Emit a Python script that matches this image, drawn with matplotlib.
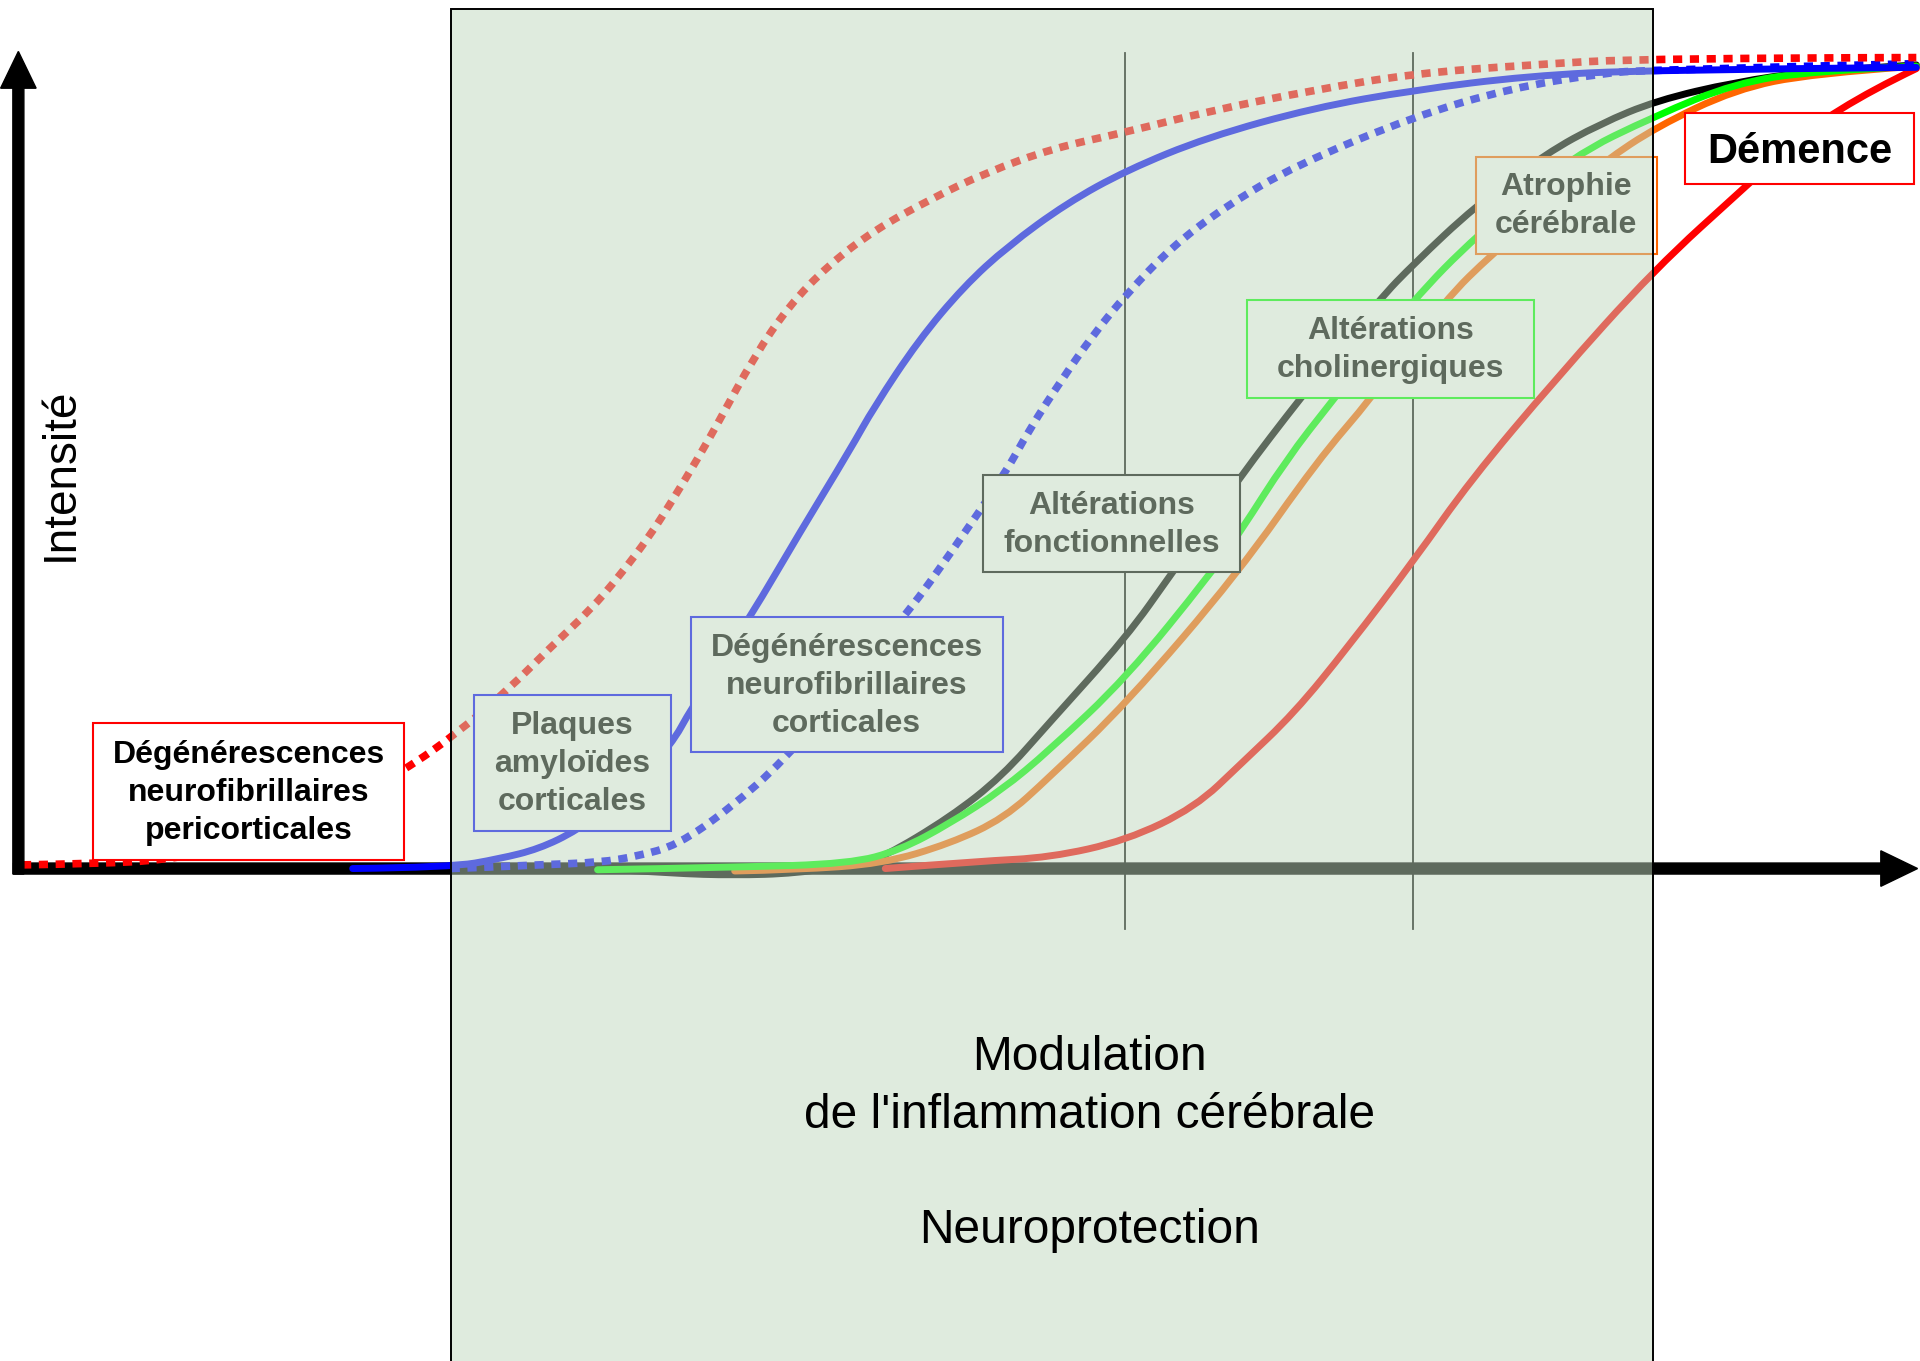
# -*- coding: utf-8 -*-
"""
Schéma : évolution des lésions de la maladie d'Alzheimer dans le temps
"""

import matplotlib
matplotlib.use("Agg")
import matplotlib.pyplot as plt
from matplotlib.patches import Rectangle, PathPatch
from matplotlib.path import Path

plt.rcParams['font.family'] = ['Liberation Sans', 'DejaVu Sans']

peri_t = [18, 80, 135, 200, 260, 330, 374, 416, 449, 482, 506, 531, 550, 570, 586,
          616, 644, 677, 714, 759, 805, 860, 919, 986, 1073, 1155, 1248, 1347, 1565]
peri_i = [3, 4, 7, 19, 41, 80, 111, 147, 180, 211, 239, 272, 302, 335, 363,
          418, 459, 493, 521, 546, 568, 588, 601, 618, 635.5, 649, 656, 661.5, 662]

plaq_t = [288, 368, 408, 440, 471, 510, 549, 563.5, 612.5, 653, 694, 714, 750, 787,
          823, 871, 920, 986, 1073, 1155, 1248, 1347, 1565]
plaq_i = [0, 1, 8, 16, 31, 59, 102, 129, 205, 274, 341.5, 377, 431, 475,
          508, 543, 570, 597, 621, 635.5, 647, 652, 654]

cort_t = [368, 395, 440, 490, 520, 553, 596, 640, 690, 743, 776, 820, 841, 867,
          893, 920, 957, 1000, 1058, 1155, 1234, 1307, 1347, 1565]
cort_i = [0, 1, 3, 5, 10, 19, 49, 88, 147, 211, 257, 321, 359, 399,
          436, 469, 507.5, 540, 574, 614, 637, 649, 652, 657]

fonc_t = [490, 550, 599, 650, 700, 721, 776, 818, 857, 920, 957, 1013, 1062,
          1126, 1155, 1204, 1263, 1307, 1353, 1417, 1480, 1565]
fonc_i = [0, -4, -5.5, -4, 4, 9, 42, 75, 119, 189, 241, 320, 384,
          464, 494, 540, 584, 608, 627, 642, 651, 656]

chol_t = [488, 600, 694, 735, 776, 818, 857, 920, 989, 1013, 1050, 1088, 1154,
          1205, 1283, 1353, 1417, 1480, 1565]
chol_i = [-1, 1, 4, 15, 37, 64, 96.5, 156, 241, 275, 333, 382, 464,
          516, 581, 615, 641, 651, 655]

atro_t = [600, 650, 721, 776, 820, 857.5, 920, 1011, 1076, 1120, 1180, 1219, 1260,
          1310, 1353, 1417, 1480, 1565]
atro_i = [-2, -1, 4, 20.5, 41, 75, 135, 241, 333, 384, 464, 502, 537,
          577, 605.5, 636, 649, 655]

dem_t = [723, 800, 857.5, 920, 976, 1014, 1057, 1101, 1155, 1201, 1270, 1351,
         1427, 1494, 1565]
dem_i = [0, 6, 9, 23, 50, 86, 127, 181, 252, 317, 399, 489, 558, 619, 653]

# Repères verticaux et zone thérapeutique
reperes_t = [919, 1154]
zone_t = [368, 1350]


def courbe(ax, t, i, color, lw=5, dots=False):
    # trace lissé (béziers quadratiques passant par les milieux des points lus)
    pts = list(zip(t, i))
    verts = [pts[0]]
    codes = [Path.MOVETO]
    for k in range(1, len(pts) - 1):
        if k < len(pts) - 2:
            end = ((pts[k][0] + pts[k + 1][0]) / 2, (pts[k][1] + pts[k + 1][1]) / 2)
        else:
            end = pts[k + 1]
        verts += [pts[k], end]
        codes += [Path.CURVE3, Path.CURVE3]
    if len(pts) == 2:
        verts.append(pts[1])
        codes.append(Path.LINETO)
    ls = (0, (1.2, 1.0)) if dots else '-'
    ax.add_patch(PathPatch(Path(verts, codes), facecolor='none', edgecolor=color,
                           lw=lw, linestyle=ls, capstyle='butt' if dots else 'round',
                           zorder=2))


fig = plt.figure(figsize=(19.2, 13.61), dpi=100)
ax = fig.add_axes([0, 0, 1, 1])
ax.set_xlim(0, 1568)
ax.set_ylim(-402, 709)
ax.axis('off')

# Axes avec flèches
ax.arrow(11, 0, 1555, 0, width=9, head_width=29, head_length=30,
         length_includes_head=True, color='black', zorder=1)
ax.arrow(15, -4.5, 0, 671.5, width=9, head_width=29, head_length=30,
         length_includes_head=True, color='black', zorder=5)

for t in reperes_t:
    ax.plot([t, t], [-49, 666], color='black', lw=1.3, zorder=1.5)

courbe(ax, dem_t, dem_i, '#ff0000')
courbe(ax, fonc_t, fonc_i, 'black')
courbe(ax, atro_t, atro_i, '#ff6600')
courbe(ax, chol_t, chol_i, '#00ff00')
courbe(ax, cort_t, cort_i, '#0000ff', lw=5.5, dots=True)
courbe(ax, plaq_t, plaq_i, '#0000ff')
courbe(ax, peri_t, peri_i, '#ff0000', lw=5.5, dots=True)

# Étiquettes : texte, x0, x1, y0, y1, bord, taille, zorder
labels = [
    ("Dégénérescences\nneurofibrillaires\npericorticales", 76, 330, 7, 119, '#ff0000', 23, 5),
    ("Plaques\namyloïdes\ncorticales", 387, 548, 31, 142, '#0000ff', 23, 3),
    ("Dégénérescences\nneurofibrillaires\ncorticales", 564, 819, 95, 205, '#0000ff', 23, 3),
    ("Altérations\nfonctionnelles", 803, 1013, 242, 321, 'black', 23, 3),
    ("Altérations\ncholinergiques", 1018, 1253, 384, 464, '#00ff00', 23, 3),
    ("Atrophie\ncérébrale", 1205, 1353, 502, 581, '#ff6600', 23, 3),
    ("Démence", 1376, 1563, 559, 617, '#ff0000', 30, 5),
]
for txt, x0, x1, y0, y1, ec, fs, z in labels:
    ax.add_patch(Rectangle((x0, y0), x1 - x0, y1 - y0, facecolor='white',
                           edgecolor=ec, lw=1.5, zorder=z))
    dy = -3 if fs > 25 else -1
    ax.text((x0 + x1) / 2, (y0 + y1) / 2 + dy, txt, ha='center', va='center',
            multialignment='center', fontsize=fs, fontweight='bold',
            linespacing=1.35, color='black', zorder=z + 0.1)

# Zone de modulation (voile vert translucide)
ax.add_patch(Rectangle((zone_t[0], -450), zone_t[1] - zone_t[0], 1152,
                       facecolor=(192/255, 215/255, 190/255, 0.494),
                       edgecolor='black', lw=1.4, zorder=4))

ax.text(890, -225, "Modulation\nde l'inflammation cérébrale\n\nNeuroprotection",
        ha='center', va='center', multialignment='center', fontsize=34.5,
        linespacing=1.36, color='black', zorder=6)

ax.text(50, 322, "Intensité", rotation=90, ha='center', va='center',
        fontsize=33, color='black', zorder=6)

fig.savefig('out.png', dpi=100, facecolor='white')
